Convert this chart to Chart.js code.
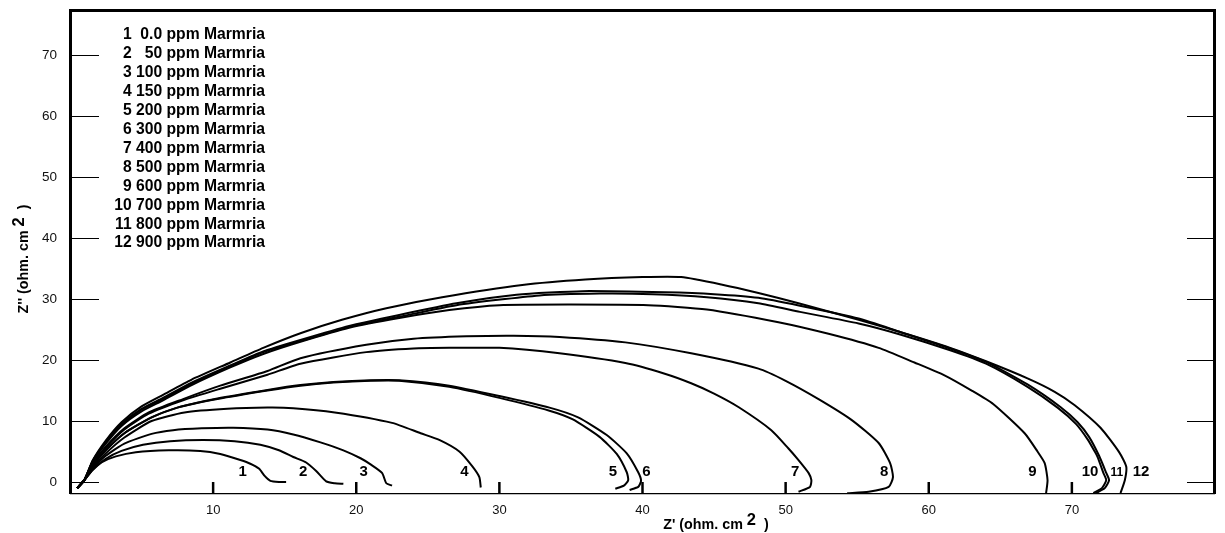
<!DOCTYPE html>
<html><head><meta charset="utf-8">
<script src="https://cdn.jsdelivr.net/npm/chart.js@4.4.1/dist/chart.umd.min.js"></script>
<style>html,body{margin:0;padding:0;background:#fff;}#wrap{width:1225px;height:533px;}</style>
</head><body><div id="wrap"><canvas id="c" width="1225" height="533"></canvas></div>
<script>
const xTicks = [10, 20, 30, 40, 50, 60, 70];
const yTicks = [0, 10, 20, 30, 40, 50, 60, 70];
const legendLines = ['1  0.0 ppm Marmria','2   50 ppm Marmria','3 100 ppm Marmria','4 150 ppm Marmria','5 200 ppm Marmria','6 300 ppm Marmria','7 400 ppm Marmria','8 500 ppm Marmria','9 600 ppm Marmria','10 700 ppm Marmria','11 800 ppm Marmria','12 900 ppm Marmria'];
const curveLabels = ['1','2','3','4','5','6','7','8','9','10','11','12'];
const labelX = [12.07,16.29,20.52,27.56,37.94,40.27,50.67,56.88,67.24,71.27,73.14,74.83];
const labelY = 1.69;

const curve1 = [[0.5,-1.0],[1.0,0.3],[1.5,1.8],[2.2,3.2],[3.2,4.2],[4.6,4.9],[6.9,5.2],[9.1,5.1],[10.5,4.6],[11.9,3.6],[12.6,3.0],[13.2,2.2],[13.6,1.0],[14.0,0.2],[14.6,0.0],[15.1,0.0]];
const curve2 = [[0.5,-1.0],[1.0,0.3],[1.6,2.0],[2.5,3.8],[3.6,5.1],[5.1,6.1],[7,6.7],[9.3,6.9],[11.5,6.7],[13.3,6.1],[14.6,5.2],[15.6,4.1],[16.5,3.2],[17.2,1.8],[17.9,0.1],[18.5,-0.2],[19.1,-0.3]];
const curve3 = [[0.5,-1.0],[1.0,0.3],[1.6,2.2],[2.5,4.3],[3.8,6.3],[5.7,7.9],[7.2,8.5],[9.2,8.8],[11.4,8.9],[13.8,8.6],[15.6,7.8],[17.5,6.5],[19.1,5.2],[20.3,3.9],[21.0,2.9],[21.8,1.5],[22.1,-0.2],[22.5,-0.6]];
const curve4 = [[0.5,-1.0],[1.0,0.3],[1.6,2.4],[2.5,4.7],[3.8,7.3],[5.7,10.0],[8,11.4],[11,12.0],[13.8,12.2],[15.6,12.1],[18.5,11.4],[22.5,9.7],[24.5,8.0],[25.8,6.9],[27.2,5.0],[28.1,2.6],[28.6,0.8],[28.7,-0.9]];
const curve5 = [[0.5,-1.0],[1.0,0.3],[1.6,2.7],[2.5,5.2],[3.8,8.0],[5.7,10.6],[7.5,12.2],[10.3,13.6],[13.8,15.0],[16.1,15.8],[18.4,16.3],[21,16.6],[23,16.6],[26.5,15.6],[30,13.8],[33.5,11.7],[35.1,10.3],[37,7.4],[38.2,4.6],[38.9,1.6],[39.0,0.3],[38.7,-0.6],[38.1,-1.1]];
const curve6 = [[0.5,-1.0],[1.0,0.3],[1.6,2.7],[2.5,5.2],[3.8,8.0],[5.7,10.6],[7.5,12.2],[10.3,13.7],[13.8,15.1],[16.1,15.9],[18.4,16.4],[21,16.7],[23,16.7],[26.5,15.8],[30,14.1],[33.5,12.2],[35.5,10.6],[37.5,7.7],[38.9,4.7],[39.7,1.6],[39.9,0.2],[39.7,-0.8],[39.1,-1.3]];
const curve7 = [[0.5,-1.0],[1.0,0.3],[1.6,3.0],[2.5,5.6],[3.8,8.6],[5.5,11.2],[7.9,13.4],[10.5,15.3],[13.8,17.6],[16.1,19.4],[20.7,21.3],[24,21.9],[26.5,22.0],[30,22.0],[34.2,21.1],[38.8,19.5],[41.5,17.8],[43.4,16.2],[45,14.5],[46.7,12.3],[49,8.5],[50.2,5.5],[50.9,3.6],[51.6,1.5],[51.8,0.3],[51.7,-0.8],[50.9,-1.6]];
const curve8 = [[0.5,-1.0],[1.0,0.3],[1.6,3.1],[2.5,5.8],[3.8,8.8],[5.5,11.4],[7.9,13.6],[10.5,15.8],[13.8,18.2],[16.1,20.3],[20.7,22.5],[24,23.5],[27.7,23.9],[31,24.0],[34.2,23.8],[38.8,22.9],[43.4,21.1],[48.1,18.6],[50.0,16.6],[52.3,13.6],[54.6,10.2],[56.5,6.4],[57.3,3.1],[57.5,0.8],[57.2,-0.8],[55.8,-1.6],[54.3,-1.85]];
const curve9 = [[0.5,-1.0],[1.0,0.3],[1.6,3.4],[2.5,6.3],[3.6,9.2],[5,11.6],[6.5,13.4],[8.5,15.9],[11.2,18.8],[13.5,21.0],[16.1,23.0],[19.5,25.3],[23,26.9],[26.5,28.2],[30,29.0],[35,29.1],[40.4,29.0],[44.5,28.3],[49.5,26.2],[53,24.3],[56.5,22.0],[59,19.6],[61.1,17.5],[63,15.0],[64.5,12.8],[66.7,8.0],[67.6,5.0],[68.1,3.1],[68.3,0.3],[68.2,-1.8]];
const curve10 = [[0.5,-1.0],[1.0,0.3],[1.6,3.5],[2.5,6.5],[3.6,9.4],[5,11.9],[6.5,13.6],[8.5,16.1],[11.2,19.0],[13.5,21.3],[16.1,23.1],[19.5,25.4],[23,27.1],[27,29.0],[32.8,30.6],[37,30.9],[40.7,30.8],[44.5,30.3],[48.1,29.3],[51,27.9],[55.1,26.0],[58,24.2],[61.5,21.6],[64,19.4],[66.9,15.6],[69,12.2],[70.3,9.5],[71.1,7.0],[71.6,5.0],[71.8,4.1],[72.2,1.5],[72.4,0.3],[72.1,-1.0],[71.5,-1.8]];
const curve11 = [[0.5,-1.0],[1.0,0.3],[1.6,3.5],[2.5,6.6],[3.6,9.5],[5,12.0],[6.5,13.8],[8.5,16.3],[11.2,19.1],[13.5,21.4],[16.1,23.3],[19.5,25.6],[23,27.4],[27,29.3],[31.2,30.7],[35.8,31.3],[41.6,31.1],[45,30.8],[48.1,30.2],[51,28.9],[55.1,26.8],[58,24.6],[61.5,21.9],[64,19.7],[66.9,16.0],[69.2,12.3],[70.4,9.8],[71.2,7.4],[71.9,4.3],[72.4,1.5],[72.6,0.3],[72.3,-1.0],[71.7,-1.8]];
const curve12 = [[0.5,-1.0],[1.0,0.3],[1.6,3.6],[2.5,6.8],[3.6,9.8],[5,12.4],[6.5,14.3],[8.5,16.8],[11.2,19.6],[13.5,22.0],[16.1,24.4],[19,26.6],[22.1,28.5],[26,30.3],[31.6,32.3],[36,33.2],[40,33.6],[42.7,33.6],[45.5,32.4],[48.1,31.0],[50.9,29.3],[55.1,26.6],[58,24.6],[61.5,22.0],[64,19.8],[66.9,17.0],[68.8,14.8],[70.2,12.6],[72,8.9],[73.3,4.9],[73.8,2.5],[73.7,0.3],[73.4,-1.8]];

const curves = [curve1,curve2,curve3,curve4,curve5,curve6,curve7,curve8,curve9,curve10,curve11,curve12];

const FONT = "Arial, 'Liberation Sans', sans-serif";

function drawRich(ctx, parts) {
  let w = 0;
  parts.forEach(p => { ctx.font = 'bold ' + p[1] + 'px ' + FONT; w += ctx.measureText(p[0]).width; });
  let cx = -w / 2;
  parts.forEach(p => {
    ctx.font = 'bold ' + p[1] + 'px ' + FONT;
    ctx.fillText(p[0], cx, p[2]);
    cx += ctx.measureText(p[0]).width;
  });
}

const deco = {
  id: 'deco',
  afterDatasetsDraw(chart) {
    const {ctx, chartArea: ca, scales: {x, y}} = chart;
    ctx.save();
    ctx.strokeStyle = '#000';
    ctx.fillStyle = '#000';
    ctx.lineWidth = 3;
    ctx.beginPath();
    ctx.moveTo(ca.left + 0.5, ca.bottom + 1);
    ctx.lineTo(ca.left + 0.5, ca.top + 0.5);
    ctx.lineTo(ca.right - 0.5, ca.top + 0.5);
    ctx.lineTo(ca.right - 0.5, ca.bottom + 1);
    ctx.stroke();
    ctx.lineWidth = 1.2;
    ctx.beginPath();
    ctx.moveTo(ca.left, ca.bottom + 0.6);
    ctx.lineTo(ca.right, ca.bottom + 0.6);
    ctx.stroke();
    ctx.lineWidth = 1;
    yTicks.forEach(v => {
      const py = Math.round(y.getPixelForValue(v)) + 0.5;
      ctx.beginPath();
      ctx.moveTo(ca.left, py); ctx.lineTo(ca.left + 29, py);
      ctx.moveTo(ca.right - 28, py); ctx.lineTo(ca.right, py);
      ctx.stroke();
    });
    ctx.lineWidth = 2.5;
    xTicks.forEach(v => {
      const px = x.getPixelForValue(v);
      ctx.beginPath();
      ctx.moveTo(px, ca.bottom); ctx.lineTo(px, ca.bottom - 11);
      ctx.stroke();
    });
    ctx.font = 'bold 15.7px ' + FONT;
    ctx.textAlign = 'right';
    ctx.textBaseline = 'middle';
    legendLines.forEach((t, i) => ctx.fillText(t, 265, 34.5 + i * 18.97));
    ctx.textAlign = 'center';
    curveLabels.forEach((t, i) => {
      ctx.font = 'bold ' + (t === '11' ? 12 : 15) + 'px ' + FONT;
      ctx.fillText(t, x.getPixelForValue(labelX[i]), y.getPixelForValue(labelY) + (t === '11' ? 1 : 0));
    });
    ctx.textAlign = 'left';
    ctx.textBaseline = 'middle';
    ctx.save();
    ctx.translate(716, 525);
    drawRich(ctx, [["Z' (ohm. cm ", 14.3, 0], ["2", 16.5, -5], ["  )", 14.3, 0]]);
    ctx.restore();
    ctx.save();
    ctx.translate(24, 259);
    ctx.rotate(-Math.PI / 2);
    drawRich(ctx, [["Z'' (ohm. cm ", 14.3, 0], ["2", 16.5, -5], ["  )", 14.3, 0]]);
    ctx.restore();
    ctx.restore();
  }
};

new Chart(document.getElementById('c'), {
  type: 'scatter',
  data: {
    datasets: curves.map((c, i) => ({
      label: curveLabels[i],
      data: c.map(p => ({x: p[0], y: p[1]})),
      showLine: true,
      borderColor: '#000',
      backgroundColor: '#000',
      borderWidth: 2,
      pointRadius: 0,
      tension: 0.2,
      fill: false
    }))
  },
  options: {
    responsive: false,
    animation: false,
    devicePixelRatio: 1,
    layout: {padding: {top: 10, right: 10, left: 0, bottom: 0}},
    plugins: {legend: {display: false}, tooltip: {enabled: false}},
    scales: {
      x: {
        type: 'linear', min: 0, max: 80,
        afterBuildTicks: a => { a.ticks = xTicks.map(v => ({value: v})); },
        afterFit: s => { s.height = 40; s.paddingLeft = 0; s.paddingRight = 0; },
        grid: {display: false, drawTicks: false},
        border: {display: false},
        ticks: {color: '#111', font: {family: FONT, size: 13}, padding: 10, maxRotation: 0}
      },
      y: {
        type: 'linear', min: -1.8, max: 77.4,
        afterBuildTicks: a => { a.ticks = yTicks.map(v => ({value: v})); },
        afterFit: s => { s.width = 70; s.paddingTop = 0; s.paddingBottom = 0; },
        grid: {display: false, drawTicks: false},
        border: {display: false},
        ticks: {color: '#111', font: {family: FONT, size: 13.5}, padding: 13}
      }
    }
  },
  plugins: [deco]
});
</script></body></html>
